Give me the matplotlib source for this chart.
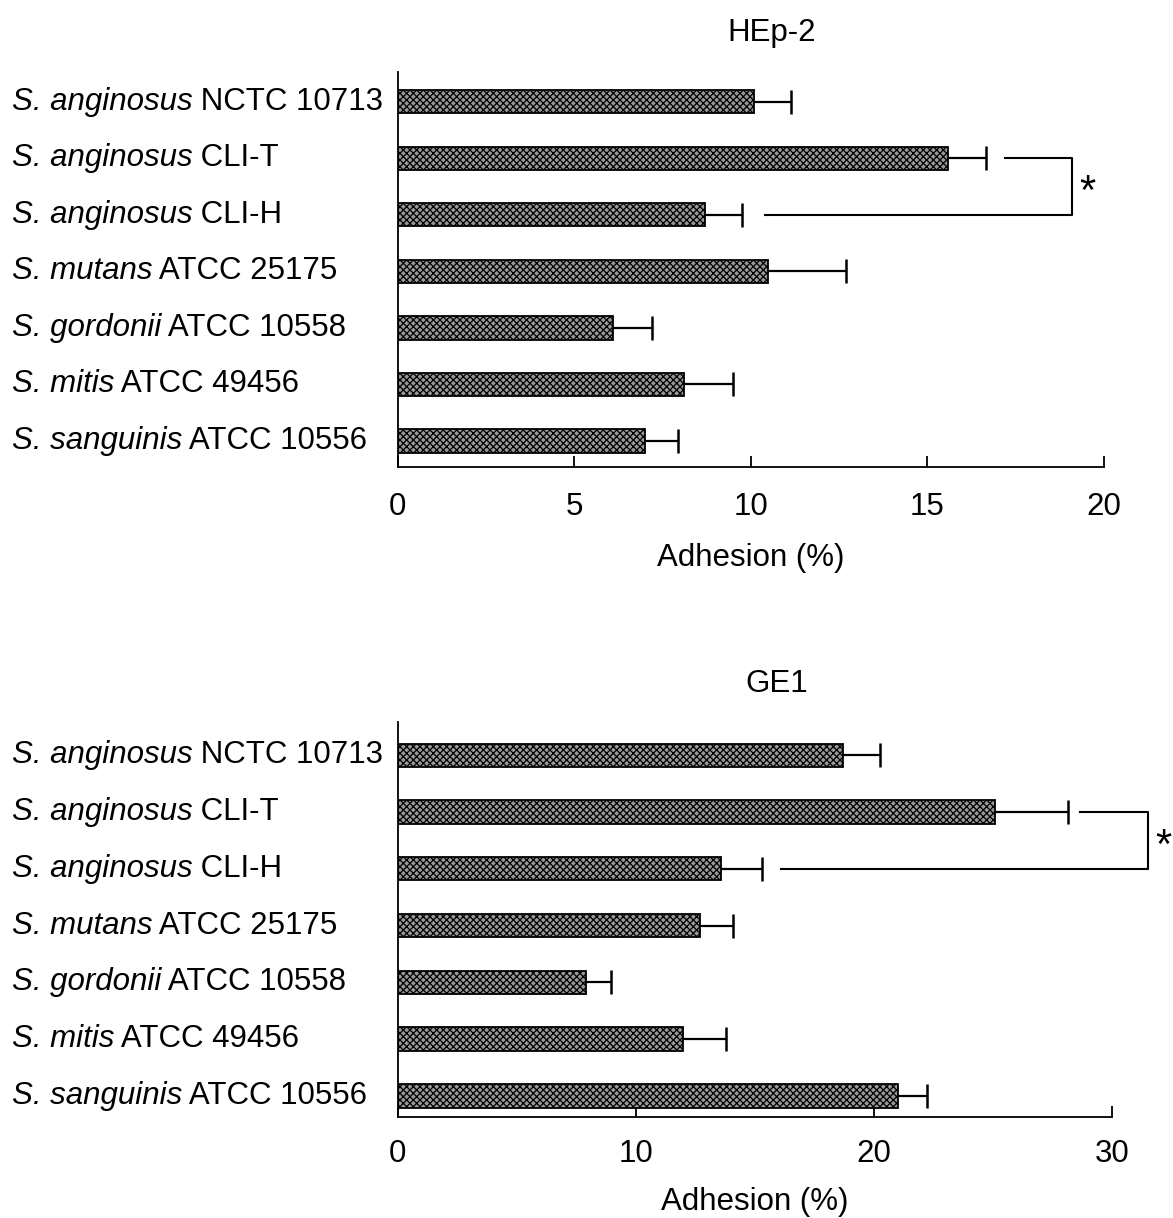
import matplotlib
matplotlib.use("Agg")
import matplotlib.pyplot as plt

plt.rcParams['font.family'] = ['Liberation Sans', 'DejaVu Sans']
plt.rcParams['hatch.color'] = '#333333'
plt.rcParams['hatch.linewidth'] = 0.9

species = ["S. anginosus", "S. anginosus", "S. anginosus", "S. mutans",
           "S. gordonii", "S. mitis", "S. sanguinis"]
strains = ["NCTC 10713", "CLI-T", "CLI-H", "ATCC 25175",
           "ATCC 10558", "ATCC 49456", "ATCC 10556"]

hep2_mean = [10.1, 15.6, 8.7, 10.5, 6.1, 8.1, 7.0]
hep2_err = [1.05, 1.05, 1.05, 2.2, 1.1, 1.4, 0.95]
ge1_mean = [18.7, 25.1, 13.6, 12.7, 7.9, 12.0, 21.0]
ge1_err = [1.55, 3.05, 1.7, 1.4, 1.05, 1.8, 1.25]

hep2_ticks = [0, 5, 10, 15, 20]
ge1_ticks = [0, 10, 20, 30]

FS = 22.5

fig = plt.figure(figsize=(11.73, 12.18), dpi=100)
ax1 = fig.add_axes([0.339, 0.6166, 0.602, 0.3244])
ax2 = fig.add_axes([0.339, 0.083, 0.609, 0.324])

def draw(ax, means, errs, ticks, xmax, title, ylim, bracket, tpad, lpad):
    y = list(range(len(means)))
    ax.barh(y, means, height=0.41, color='#999999', edgecolor='black',
            linewidth=1.3, hatch='xxxxx', zorder=2)
    ends = [m + e for m, e in zip(means, errs)]
    ax.hlines(y, means, ends, color='black', lw=1.6, zorder=3)
    ax.plot(ends, y, linestyle='none', marker='|', markersize=17,
            markeredgewidth=1.8, color='black', zorder=3)
    ax.set_ylim(*ylim)
    ax.set_xlim(0, xmax)
    ax.set_yticks(y)
    ax.set_yticklabels([""] * len(y))
    for yi, s, st in zip(y, species, strains):
        t = ax.annotate(s, xy=(0, yi), xycoords=('axes fraction', 'data'),
                        xytext=(-386, 0), textcoords='offset pixels',
                        ha='left', va='center', fontsize=FS, style='italic')
        ax.annotate(" " + st, xy=(1, 0.5), xycoords=t, ha='left', va='center', fontsize=FS)
    ax.tick_params(axis='y', length=0)
    ax.set_xticks(ticks)
    ax.tick_params(axis='x', direction='in', length=8, width=1.3, labelsize=FS, pad=tpad)
    for side in ['top', 'right']:
        ax.spines[side].set_visible(False)
    ax.spines['left'].set_linewidth(1.3)
    ax.spines['bottom'].set_linewidth(1.3)
    ax.set_xlabel("Adhesion (%)", fontsize=FS, labelpad=lpad)
    ax.set_title(title, fontsize=FS, pad=22, x=0.53)
    x_top, x_bot, x_right = bracket
    ax.plot([x_top, x_right, x_right, x_bot], [1, 1, 2, 2], color='black', lw=1.5,
            clip_on=False, zorder=3)
    ax.text(x_right + xmax * 0.01, 1.62, "*", fontsize=30, ha='left', va='center')

draw(ax1, hep2_mean, hep2_err, hep2_ticks, 20, "HEp-2", (6.46, -0.53), (17.2, 10.4, 19.1), 18, 15)
draw(ax2, ge1_mean, ge1_err, ge1_ticks, 30, "GE1", (6.37, -0.58), (28.65, 16.1, 31.5), 16, 13)

fig.savefig("out.png", dpi=100)
